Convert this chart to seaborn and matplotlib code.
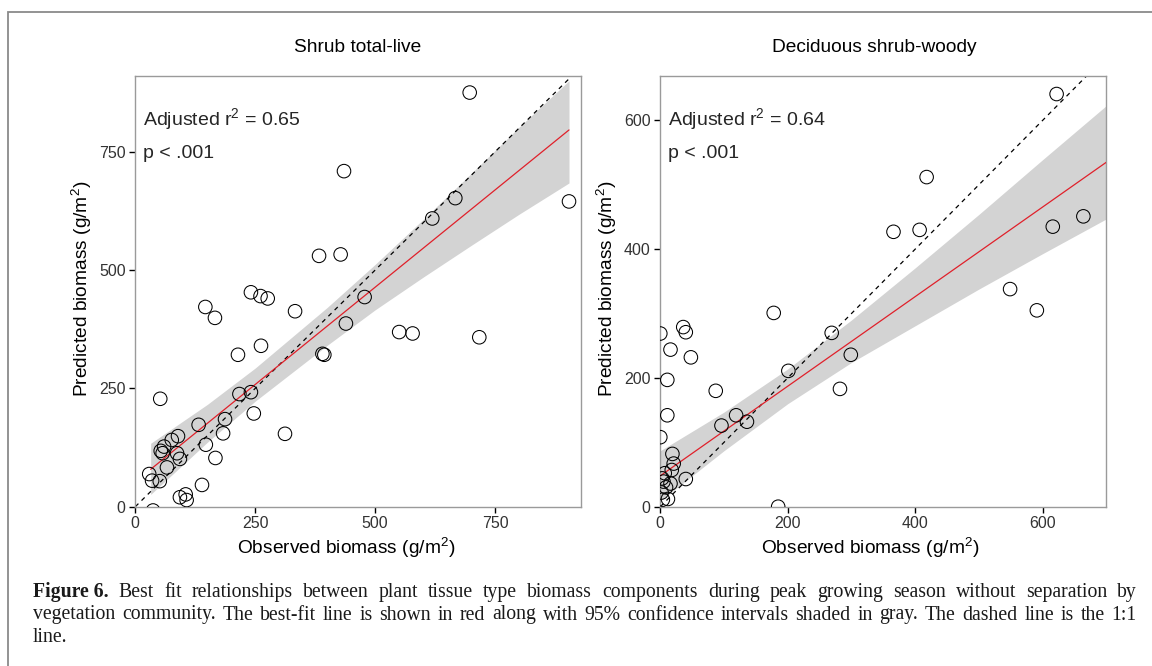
import numpy as np
import pandas as pd
import matplotlib
matplotlib.use("Agg")
import matplotlib.pyplot as plt
import seaborn as sns
from matplotlib.patches import Rectangle

# ---------------- data ----------------
left_title = "Shrub total-live"
left_obs = [697, 435, 904, 667, 619, 383, 428, 241, 261, 276, 478, 333, 146, 166,
            439, 550, 578, 717, 262, 214, 390, 394, 52, 217, 241, 247, 132, 187,
            183, 312, 89, 76, 147, 60, 53, 57, 87, 93, 167, 66, 29, 35, 51, 139,
            93, 105, 107, 37]
left_pred = [875, 709, 645, 652, 609, 530, 533, 453, 445, 440, 443, 413, 422, 399,
             387, 369, 366, 358, 340, 321, 323, 321, 228, 238, 242, 197, 173, 185,
             155, 154, 149, 141, 131, 127, 118, 113, 113, 101, 103, 83, 69, 55, 54, 46,
             20, 26, 14, -8]
# best-fit line and 95% band
left_fit_x = [32, 904]
left_fit_y = [79, 796]
left_band_x = [32, 150, 250, 400, 500, 600, 700, 800, 904]
left_band_lo = [26, 136, 223, 341, 416, 485, 552, 618, 684]
left_band_hi = [134, 216, 293, 421, 512, 607, 704, 802, 900]
left_stats = ["Adjusted r$\\mathregular{^2}$ = 0.65", "p < .001"]
left_ticks = [0, 250, 500, 750]

right_title = "Deciduous shrub-woody"
right_obs = [622, 418, 366, 407, 616, 664, 549, 591, 178, 269, 299, 282, 201, 36,
             40, 0, 16, 48, 11, 87, 11, 119, 96, 136, 0, 19, 21, 18, 7, 5, 16, 40,
             3, 12, 4, 185, 9, 2]
right_pred = [641, 512, 427, 430, 435, 451, 338, 305, 301, 270, 236, 183, 211, 279,
              271, 269, 244, 232, 197, 180, 142, 142, 126, 132, 108, 82, 67, 57, 52,
              39, 36, 43, 44, 12, 11, 0, 30, 22]
right_fit_x = [0, 700]
right_fit_y = [48, 535]
right_band_x = [0, 100, 200, 300, 400, 500, 600, 700]
right_band_lo = [9, 87, 160, 224, 281, 338, 393, 447]
right_band_hi = [87, 147, 214, 290, 371, 454, 539, 623]
right_stats = ["Adjusted r$\\mathregular{^2}$ = 0.64", "p < .001"]
right_ticks = [0, 200, 400, 600]

x_label = "Observed biomass (g/m$\\mathregular{^2}$)"
y_label = "Predicted biomass (g/m$\\mathregular{^2}$)"

caption_lines = [
    "Best fit relationships between plant tissue type biomass components during peak growing season without separation by",
    "vegetation community. The best-fit line is shown in red along with 95% confidence intervals shaded in gray. The dashed line is the 1:1",
    "line.",
]
caption_lead = "Figure 6."

# ---------------- style ----------------
sns.set_theme(style="white")
plt.rcParams["font.family"] = ["Liberation Sans", "DejaVu Sans"]
plt.rcParams["mathtext.fontset"] = "custom"
plt.rcParams["mathtext.rm"] = "Liberation Sans"

W, H = 1152, 666
fig = plt.figure(figsize=(W / 100, H / 100), dpi=100)


def fx(px):
    return px / W


def fy(py):
    return 1 - py / H


def panel(rect, obs, pred, fit_x, fit_y, band_x, band_lo, band_hi,
          xlim, ylim, ticks, title, stats, title_x, xlab_x, ylab_x):
    ax = fig.add_axes(rect)
    df = pd.DataFrame({"obs": obs, "pred": pred})
    ax.fill_between(band_x, band_lo, band_hi, color="#D3D3D3", lw=0, zorder=1)
    lim = max(xlim[1], ylim[1])
    ax.plot([0, lim], [0, lim], ls=(0, (3.5, 3.5)), color="black", lw=0.9, zorder=2)
    sns.lineplot(x=fit_x, y=fit_y, ax=ax, color="#E0202A", lw=0.9, zorder=3)
    sns.scatterplot(data=df, x="obs", y="pred", ax=ax, s=95, facecolors="none",
                    edgecolor="black", linewidth=0.75, zorder=4)
    ax.set_xlim(*xlim)
    ax.set_ylim(*ylim)
    ax.set_xticks(ticks)
    ax.set_yticks(ticks)
    ax.tick_params(axis="both", which="both", length=4, width=1, color="black",
                   labelsize=11.5, labelcolor="#333333", direction="out", pad=3,
                   bottom=True, left=True)
    for sp in ax.spines.values():
        sp.set_color("#9A9A9A")
        sp.set_linewidth(1.0)
    ax.set_xlabel("")
    ax.set_ylabel("")
    fig.text(fx(xlab_x), fy(548), x_label, ha="center", va="center",
             fontsize=13.8, color="black")
    fig.text(fx(ylab_x), fy(289), y_label, rotation=90, ha="center", va="center",
             fontsize=13.8, color="black")
    fig.text(fx(title_x), fy(48), title, ha="center", va="center", fontsize=13.8, color="black")
    ax.text(0.017, 0.9, stats[0], transform=ax.transAxes, fontsize=14, ha="left", va="center")
    ax.text(0.017, 0.82, stats[1], transform=ax.transAxes, fontsize=14, ha="left", va="center")
    return ax


ax1 = panel([fx(135.3), fy(506.7), fx(581) - fx(135.3), (506.7 - 76) / H],
            left_obs, left_pred, left_fit_x, left_fit_y, left_band_x, left_band_lo, left_band_hi,
            (0, 929), (0, 910), left_ticks, left_title, left_stats, 358, 346, 82)
ax2 = panel([fx(660.3), fy(506.7), fx(1106.3) - fx(660.3), (506.7 - 76) / H],
            right_obs, right_pred, right_fit_x, right_fit_y, right_band_x, right_band_lo, right_band_hi,
            (0, 700), (0, 669), right_ticks, right_title, right_stats, 874, 870, 607)

# figure frame
fig.patches.append(Rectangle((fx(8), -0.05), 1.2, fy(12.5) + 0.05, transform=fig.transFigure,
                             fill=False, edgecolor="#8A8A8A", lw=1.3))

# ---------------- caption (justified) ----------------
renderer = fig.canvas.get_renderer()
x0, x1 = 33, 1137
probe = fig.text(0, 0, caption_lines[1], family=["Liberation Serif", "DejaVu Serif"], size=12.7)
nat = probe.get_window_extent(renderer).width
probe.remove()
cap_size = 12.7 * (x1 - x0) / nat * 0.96
cap_font = dict(family=["Liberation Serif", "DejaVu Serif"], size=cap_size, color="#1a1a1a")
baselines = [597, 619.5, 642]
for i, line in enumerate(caption_lines):
    words = line.split(" ")
    tokens = []
    if i == 0:
        tokens.append((caption_lead, "bold"))
    tokens += [(w, "normal") for w in words]
    objs = []
    for tok, wt in tokens:
        t = fig.text(0, fy(baselines[i]), tok, ha="left", va="baseline", fontweight=wt, **cap_font)
        objs.append(t)
    widths = [o.get_window_extent(renderer).width for o in objs]
    if i < len(caption_lines) - 1:
        gap = (x1 - x0 - sum(widths)) / (len(objs) - 1)
    else:
        gap = 4
    x = x0
    for o, w in zip(objs, widths):
        o.set_x(fx(x))
        x += w + gap

fig.savefig("out.png", dpi=100)
